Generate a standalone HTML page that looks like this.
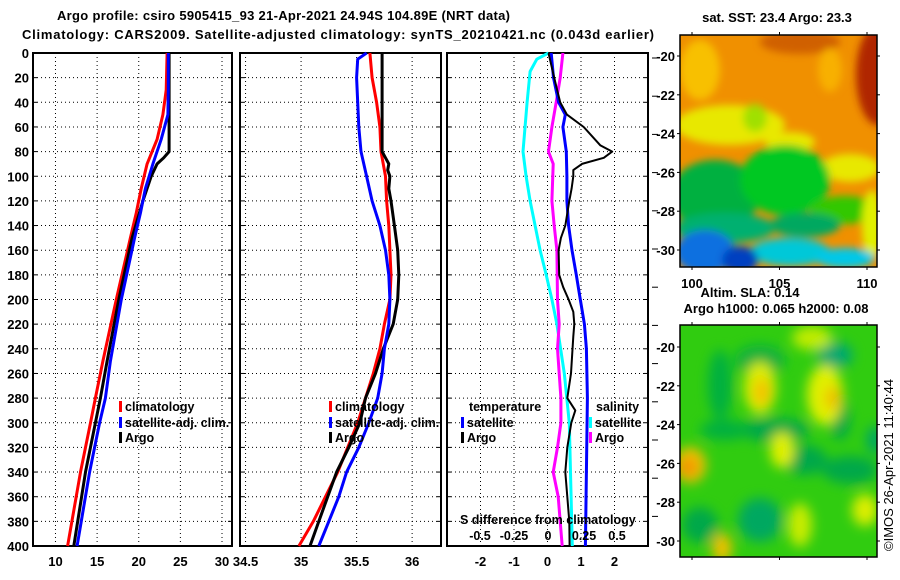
<!DOCTYPE html>
<html><head><meta charset="utf-8"><style>
html,body{margin:0;padding:0;background:#fff;}
svg{display:block;font-family:"Liberation Sans",Arial,sans-serif;}
.t{font-weight:bold;font-size:13px;fill:#000;}
.lg{font-weight:bold;font-size:12.5px;fill:#000;}
</style></head><body>
<svg id="c" width="900" height="580" viewBox="0 0 900 580">
<defs>
<filter id="blur1" x="-20%" y="-20%" width="140%" height="140%"><feGaussianBlur stdDeviation="4"/></filter>
<filter id="blur2" x="-20%" y="-20%" width="140%" height="140%"><feGaussianBlur stdDeviation="6"/></filter>
<clipPath id="clipA"><rect x="680" y="35" width="197" height="232"/></clipPath>
<clipPath id="clipB"><rect x="680" y="325" width="197" height="232"/></clipPath>
</defs>
<text class="t" x="57" y="20" textLength="453">Argo profile: csiro 5905415_93 21-Apr-2021 24.94S 104.89E (NRT data)</text>
<text class="t" x="22" y="39" textLength="632">Climatology: CARS2009. Satellite-adjusted climatology: synTS_20210421.nc (0.043d earlier)</text>
<g id="panels"></g>

<!-- SST map -->
<text class="t" x="777" y="22" text-anchor="middle">sat. SST: 23.4 Argo: 23.3</text>
<g clip-path="url(#clipA)">
<rect x="680" y="35" width="197" height="232" fill="#f09000"/>
<g filter="url(#blur1)">
<ellipse cx="800" cy="42" rx="40" ry="12" fill="#d06000"/>
<ellipse cx="878" cy="75" rx="22" ry="50" fill="#b02800"/>
<ellipse cx="700" cy="70" rx="20" ry="30" fill="#f8c000"/>
<ellipse cx="830" cy="70" rx="12" ry="22" fill="#f8b000"/>
<ellipse cx="730" cy="125" rx="55" ry="20" fill="#e8e800"/>
<ellipse cx="790" cy="142" rx="25" ry="10" fill="#e8e800"/>
<ellipse cx="850" cy="168" rx="30" ry="14" fill="#e8e800"/>
<ellipse cx="755" cy="118" rx="12" ry="14" fill="#a0e000"/>
<ellipse cx="715" cy="195" rx="45" ry="35" fill="#00b040"/>
<ellipse cx="785" cy="180" rx="45" ry="35" fill="#00c820"/>
<ellipse cx="845" cy="210" rx="35" ry="14" fill="#30c800"/>
<ellipse cx="872" cy="225" rx="10" ry="35" fill="#e0f000"/>
<ellipse cx="725" cy="228" rx="50" ry="15" fill="#00b070"/>
<ellipse cx="805" cy="225" rx="35" ry="12" fill="#00a860"/>
<ellipse cx="790" cy="252" rx="40" ry="14" fill="#00c8d8"/>
<ellipse cx="845" cy="258" rx="30" ry="10" fill="#00c8e8"/>
<ellipse cx="705" cy="252" rx="30" ry="22" fill="#1070e0"/>
<ellipse cx="740" cy="260" rx="18" ry="14" fill="#0040c0"/>
</g></g>
<rect x="680" y="35" width="197" height="232" fill="none" stroke="#000" stroke-width="1.5"/>

<!-- SLA map -->
<text class="t" x="750" y="297" text-anchor="middle">Altim. SLA: 0.14</text>
<text class="t" x="776" y="313" text-anchor="middle">Argo h1000: 0.065 h2000: 0.08</text>
<g clip-path="url(#clipB)">
<rect x="680" y="325" width="197" height="232" fill="#30cc10"/>
<g filter="url(#blur2)">
<ellipse cx="720" cy="385" rx="12" ry="35" fill="#00b040"/>
<ellipse cx="775" cy="430" rx="35" ry="12" fill="#00a848"/>
<ellipse cx="835" cy="355" rx="18" ry="13" fill="#00a870"/>
<ellipse cx="760" cy="360" rx="25" ry="15" fill="#10b040"/>
<ellipse cx="725" cy="430" rx="25" ry="10" fill="#00b040"/>
<ellipse cx="805" cy="460" rx="22" ry="15" fill="#00a848"/>
<ellipse cx="700" cy="525" rx="18" ry="18" fill="#00a848"/>
<ellipse cx="760" cy="520" rx="22" ry="22" fill="#00a860"/>
<ellipse cx="850" cy="470" rx="28" ry="14" fill="#00a848"/>
<ellipse cx="840" cy="420" rx="10" ry="20" fill="#00a848"/>
<ellipse cx="760" cy="388" rx="16" ry="26" fill="#dcee00"/>
<ellipse cx="762" cy="392" rx="8" ry="14" fill="#f4c000"/>
<ellipse cx="825" cy="395" rx="18" ry="30" fill="#e0f000"/>
<ellipse cx="833" cy="398" rx="8" ry="12" fill="#f0c000"/>
<ellipse cx="812" cy="338" rx="20" ry="12" fill="#c0ec00"/>
<ellipse cx="782" cy="450" rx="12" ry="18" fill="#e0f000"/>
<ellipse cx="690" cy="465" rx="16" ry="18" fill="#f4c000"/>
<ellipse cx="688" cy="467" rx="9" ry="9" fill="#f09000"/>
<ellipse cx="865" cy="510" rx="13" ry="16" fill="#dcee00"/>
<ellipse cx="800" cy="525" rx="12" ry="22" fill="#c8ec00"/>
<ellipse cx="722" cy="548" rx="10" ry="15" fill="#f0c000"/>
<ellipse cx="875" cy="440" rx="9" ry="14" fill="#00a860"/>
</g></g>
<rect x="680" y="325" width="197" height="232" fill="none" stroke="#000" stroke-width="1.5"/>
<g id="mapaxes"></g>
<text x="893" y="465" font-size="13" text-anchor="middle" transform="rotate(-90 893 465)">©IMOS 26-Apr-2021 11:40:44</text>
</svg>
<script>
// ---- data ----
const depthTicks = [0,20,40,60,80,100,120,140,160,180,200,220,240,260,280,300,320,340,360,380,400];
const tempTicks = [10,15,20,25,30];
const salTicks = [34.5,35,35.5,36];
const diffTicks = [-2,-1,0,1,2];
const sDiffTicks = ["-0.5","-0.25","0","0.25","0.5"];

const tClimDepth = [0,30,50,70,90,110,130,150,200,250,280,300,340,400];
const tClim = [23.4,23.3,22.9,22.2,21.0,20.3,19.7,19.0,17.3,15.7,14.8,14.2,13.0,11.45];
const tSatDepth = [0,30,50,70,90,110,130,150,200,250,280,300,340,400];
const tSat = [23.55,23.55,23.5,22.7,21.7,20.8,20.2,19.5,17.9,16.6,16.0,15.3,14.1,12.6];
const tArgoDepth = [0,80,85,90,100,120,150,200,250,280,300,340,400];
const tArgo = [23.65,23.65,23.0,22.2,21.5,20.5,19.2,17.6,16.2,15.4,14.8,13.6,12.2];

const sClimDepth = [0,20,40,60,80,100,120,140,160,180,200,220,240,260,280,300,320,340,360,380,400];
const sClim = [35.62,35.64,35.68,35.71,35.72,35.76,35.77,35.79,35.80,35.81,35.80,35.75,35.71,35.65,35.58,35.51,35.42,35.33,35.22,35.11,34.98];
const sSatDepth = [0,5,20,40,60,80,100,120,140,160,180,200,220,240,260,280,300,320,340,360,380,400];
const sSat = [35.59,35.51,35.50,35.51,35.52,35.54,35.59,35.64,35.71,35.76,35.79,35.80,35.79,35.75,35.73,35.69,35.61,35.52,35.41,35.34,35.25,35.16];
const sArgoDepth = [0,80,85,90,95,100,110,120,140,160,180,200,220,240,260,280,300,320,340,360,380,400];
const sArgo = [35.73,35.73,35.76,35.79,35.78,35.80,35.79,35.81,35.84,35.87,35.88,35.87,35.83,35.74,35.67,35.58,35.53,35.43,35.32,35.24,35.16,35.08];

const dTSatDepth = [0,20,40,50,60,80,100,120,140,160,180,200,220,240,280,340,400];
const dTSat = [0.11,0.18,0.33,0.53,0.46,0.56,0.58,0.58,0.63,0.73,0.86,0.98,1.1,1.16,1.19,1.16,1.13];
const dTArgoDepth = [0,20,40,50,60,75,80,85,90,95,100,110,120,140,150,160,180,190,200,210,220,230,260,280,290,300,320,340,360,380,400];
const dTArgo = [0.03,0.2,0.38,0.58,1.08,1.58,1.93,1.68,1.03,0.77,0.77,0.72,0.65,0.53,0.4,0.33,0.35,0.47,0.63,0.77,0.8,0.77,0.7,0.59,0.83,0.71,0.59,0.53,0.59,0.65,0.66];
const dSSatDepth = [0,5,15,40,80,100,120,140,160,180,200,220,260,300,400];
const dSSat = [0.03,-0.32,-0.52,-0.61,-0.73,-0.64,-0.52,-0.37,-0.22,-0.04,0.13,0.28,0.5,0.65,0.74];
const dSArgoDepth = [0,20,40,60,80,90,120,140,160,200,220,240,280,300,320,340,360,400];
const dSArgo = [0.46,0.38,0.26,0.13,0.03,0.17,0.13,0.2,0.28,0.3,0.35,0.3,0.4,0.4,0.3,0.17,0.32,0.44];

const latTicks = [-20,-22,-24,-26,-28,-30];
const lonTicks = [100,105,110];

// ---- drawing ----
const NS = "http://www.w3.org/2000/svg";
const root = document.getElementById("panels");
function mk(tag, attrs, parent){ const e=document.createElementNS(NS,tag); for(const k in attrs) e.setAttribute(k,attrs[k]); (parent||root).appendChild(e); return e; }
const yTop=53, yBot=546;
function yScale(d){ return yTop + d*(yBot-yTop)/400; }

const panels = [
 {x0:33,x1:232,vmin:7.3,vmax:31.2,grid:tempTicks,name:"temperature-panel"},
 {x0:240,x1:441,vmin:34.45,vmax:36.26,grid:salTicks,name:"salinity-panel"},
 {x0:447,x1:648,vmin:-3,vmax:3,grid:diffTicks,name:"difference-panel"}
];
function xf(p){ return v => p.x0 + (v-p.vmin)*(p.x1-p.x0)/(p.vmax-p.vmin); }

panels.forEach((p,i)=>{
  const g = mk("g",{});
  
  
  const X = xf(p);
  depthTicks.forEach(d=>{
    const y=yScale(d);
    if(d>0 && d<400){
      const l=mk("line",{x1:p.x0,x2:p.x1,y1:y,y2:y,stroke:"#000","stroke-width":1,"stroke-dasharray":"1,3"},g);
      
      
    }
    mk("line",{x1:p.x0,x2:p.x0+4,y1:y,y2:y,stroke:"#000","stroke-width":1},g);
    mk("line",{x1:p.x1-4,x2:p.x1,y1:y,y2:y,stroke:"#000","stroke-width":1},g);
  });
  p.grid.forEach((v,k)=>{
    const x=X(v);
    const l=mk("line",{x1:x,x2:x,y1:yTop,y2:yBot,stroke:"#000","stroke-width":1,"stroke-dasharray":"1,3"},g);
    
    
    const t=mk("text",{x:x,y:566,"text-anchor":"middle",class:"t"},g);
    t.textContent = String(v);
    
    
  });
  const f=mk("rect",{x:p.x0,y:yTop,width:p.x1-p.x0,height:yBot-yTop,fill:"none",stroke:"#000","stroke-width":2},g);
  
  
});

depthTicks.forEach(d=>{
  const t=mk("text",{x:29,y:yScale(d)+5,"text-anchor":"end",class:"t"});
  t.textContent=String(d);
  
  
});
for(let y=58;y<546;y+=38.2){ mk("line",{x1:652,x2:658,y1:y,y2:y,stroke:"#000","stroke-width":1}); }

function series(p, depths, vals, color, w, name){
  const X=xf(p);
  const pts=depths.map((d,i)=>X(vals[i]).toFixed(1)+","+yScale(d).toFixed(1)).join(" ");
  const l=mk("polyline",{points:pts,fill:"none",stroke:color,"stroke-width":w,"stroke-linejoin":"round"});
  
  
}
series(panels[0],tClimDepth,tClim,"#ff0000",3,"temp-climatology-line");
series(panels[0],tArgoDepth,tArgo,"#000000",3,"temp-argo-line");
series(panels[0],tSatDepth,tSat,"#0000ff",3,"temp-satellite-line");
series(panels[1],sClimDepth,sClim,"#ff0000",3,"sal-climatology-line");
series(panels[1],sArgoDepth,sArgo,"#000000",3,"sal-argo-line");
series(panels[1],sSatDepth,sSat,"#0000ff",3,"sal-satellite-line");
series(panels[2],dSSatDepth,dSSat,"#00ffff",3,"sdiff-satellite-line");
series(panels[2],dSArgoDepth,dSArgo,"#ff00ff",3,"sdiff-argo-line");
series(panels[2],dTSatDepth,dTSat,"#0000ff",3,"tdiff-satellite-line");
series(panels[2],dTArgoDepth,dTArgo,"#000000",2,"tdiff-argo-line");

function legend(x,y,color,label){
  const r=mk("rect",{x:x,y:y-10,width:3,height:11,fill:color});
  
  
  const t=mk("text",{x:x+6,y:y,class:"lg"});
  t.textContent=label;
  
  
}
legend(119,411,"#ff0000","climatology");
legend(119,427,"#0000ff","satellite-adj. clim.");
legend(119,442,"#000000","Argo");
legend(329,411,"#ff0000","climatology");
legend(329,427,"#0000ff","satellite-adj. clim.");
legend(329,442,"#000000","Argo");
(function(){
  const a=mk("text",{x:469,y:411,class:"lg"}); a.textContent="temperature";
   
  const b=mk("text",{x:596,y:411,class:"lg"}); b.textContent="salinity";
   
})();
legend(461,427,"#0000ff","satellite");
legend(461,442,"#000000","Argo");
legend(589,427,"#00ffff","satellite");
legend(589,442,"#ff00ff","Argo");
(function(){
  const t=mk("text",{x:460,y:524,class:"lg"}); t.textContent="S difference from climatology";
   
  const xs=[480,514,548,584,617];
  sDiffTicks.forEach((s,i)=>{
    const l=mk("text",{x:xs[i],y:540,"text-anchor":"middle",class:"lg"}); l.textContent=s;
     
  });
})();

const ma=document.getElementById("mapaxes");
function mapAxes(top, latTopY, latBotY, showLon){
  latTicks.forEach(v=>{
    const y=latTopY+(v+20)*(latBotY-latTopY)/(-10);
    mk("line",{x1:677,x2:680,y1:y,y2:y,stroke:"#000"},ma);
    mk("line",{x1:877,x2:880,y1:y,y2:y,stroke:"#000"},ma);
    const t=mk("text",{x:675,y:y+5,"text-anchor":"end",class:"t"},ma); t.textContent=String(v);
     
  });
  lonTicks.forEach(v=>{
    const x=692+(v-100)*17.5;
    mk("line",{x1:x,x2:x,y1:top-3,y2:top,stroke:"#000"},ma);
    mk("line",{x1:x,x2:x,y1:top+232,y2:top+235,stroke:"#000"},ma);
    if(showLon){ const t=mk("text",{x:x,y:top+253,"text-anchor":"middle",class:"t"},ma); t.textContent=String(v);
        }
  });
}
mapAxes(35,56,250,true);
mapAxes(325,347,541,false);
</script>
</body></html>
